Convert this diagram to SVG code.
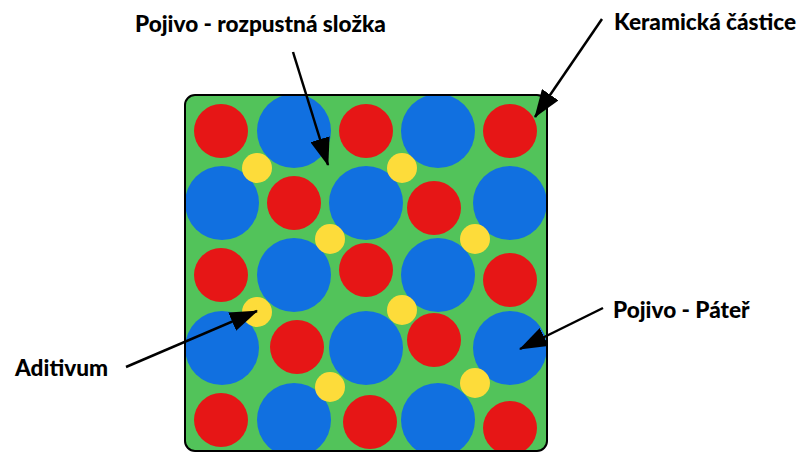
<svg xmlns="http://www.w3.org/2000/svg" width="797" height="452" viewBox="0 0 797 452">
<style>
.r{fill:#E61616}.b{fill:#1170E0}.y{fill:#FDDC3A}
.lbl{font-family:Lato,"Liberation Sans",sans-serif;font-weight:900;font-size:22.6px;fill:#000}
.ar{stroke:#000;stroke-width:2.5;fill:none;marker-end:url(#ah)}
</style>
<defs>
<marker id="ah" markerUnits="userSpaceOnUse" markerWidth="28" markerHeight="20" refX="27" refY="10" orient="auto" viewBox="0 0 28 20"><path d="M0,0 L28,10 L0,20 z" fill="#000"/></marker>
<clipPath id="sq"><rect x="185" y="95" width="362" height="356" rx="10"/></clipPath>
</defs>
<rect width="797" height="452" fill="#fff"/>
<g id="slab">
<rect x="185" y="95" width="362" height="356" rx="10" fill="#52C35A"/>
<g clip-path="url(#sq)">
<circle class="r" cx="221" cy="131" r="27"/>
<circle class="b" cx="294" cy="131" r="37"/>
<circle class="r" cx="366" cy="131" r="27"/>
<circle class="b" cx="438" cy="131" r="37"/>
<circle class="r" cx="510" cy="131" r="27"/>
<circle class="b" cx="222" cy="203" r="37"/>
<circle class="r" cx="294" cy="203" r="27"/>
<circle class="b" cx="366" cy="203" r="37"/>
<circle class="r" cx="434" cy="208" r="27"/>
<circle class="b" cx="510" cy="203" r="37"/>
<circle class="r" cx="221" cy="275" r="27"/>
<circle class="b" cx="294" cy="275" r="37"/>
<circle class="r" cx="366" cy="270" r="27"/>
<circle class="b" cx="438" cy="275" r="37"/>
<circle class="r" cx="510" cy="280" r="27"/>
<circle class="b" cx="222" cy="348" r="37"/>
<circle class="r" cx="297" cy="347" r="27"/>
<circle class="b" cx="366" cy="348" r="37"/>
<circle class="r" cx="434" cy="340" r="27"/>
<circle class="b" cx="510" cy="348" r="37"/>
<circle class="r" cx="221" cy="420" r="27"/>
<circle class="b" cx="294" cy="420" r="37"/>
<circle class="r" cx="370" cy="422" r="27"/>
<circle class="b" cx="438" cy="420" r="37"/>
<circle class="r" cx="510" cy="428" r="27"/>
<circle class="y" cx="257" cy="168" r="15"/>
<circle class="y" cx="402" cy="168" r="15"/>
<circle class="y" cx="330" cy="239" r="15"/>
<circle class="y" cx="475" cy="239" r="15"/>
<circle class="y" cx="257" cy="312" r="15"/>
<circle class="y" cx="402" cy="310" r="15"/>
<circle class="y" cx="330" cy="387" r="15"/>
<circle class="y" cx="475" cy="383" r="15"/>
</g>
<rect x="185" y="95" width="362" height="356" rx="10" fill="none" stroke="#000" stroke-width="2"/>
</g>
<g id="connectors">
<line class="ar" x1="293" y1="52" x2="328" y2="165"/>
<line class="ar" x1="602" y1="19" x2="535" y2="117"/>
<line class="ar" x1="126" y1="367" x2="257" y2="311"/>
<line class="ar" x1="603" y1="308" x2="520" y2="349"/>
</g>
<g id="label-pojivo-rozpustna"><text class="lbl" x="135" y="32">Pojivo - rozpustná složka</text></g>
<g id="label-keramicka"><text class="lbl" x="614" y="30">Keramická částice</text></g>
<g id="label-aditivum"><text class="lbl" x="15" y="376">Aditivum</text></g>
<g id="label-pater"><text class="lbl" x="613" y="318">Pojivo - Páteř</text></g>
</svg>
